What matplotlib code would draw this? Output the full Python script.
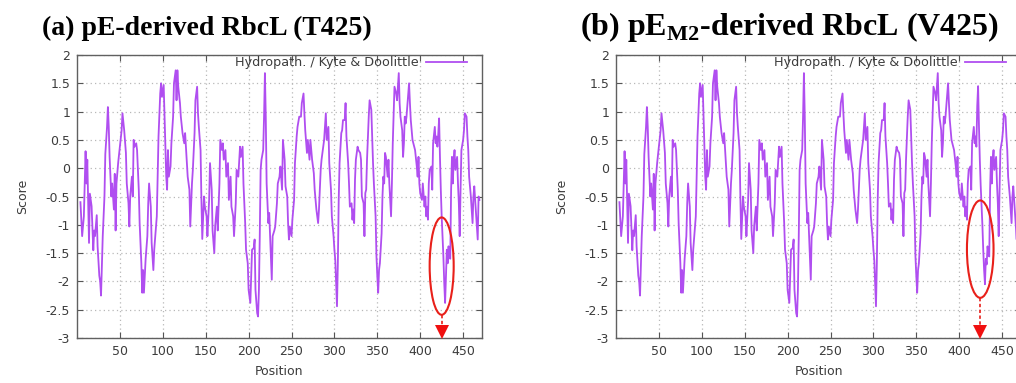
import matplotlib
matplotlib.use("Agg")
import matplotlib.pyplot as plt
from matplotlib.patches import Ellipse
from matplotlib.ticker import FuncFormatter

plt.rcParams['axes.unicode_minus'] = False
plt.rcParams['font.family'] = ['DejaVu Sans']
plt.rcParams['mathtext.fontset'] = 'custom'
plt.rcParams['mathtext.rm'] = 'Liberation Serif'
plt.rcParams['mathtext.bf'] = 'Liberation Serif:bold'

# ---------------- data ----------------
positions = [
    4, 6, 8, 10, 11, 12, 14, 15, 17, 19, 20, 21, 23, 24, 26, 27, 28, 30, 32, 33,
    35, 36, 37, 38, 40, 41, 43, 44, 45, 46, 48, 50, 52, 53, 55, 57, 58, 60, 61, 62,
    64, 65, 66, 67, 69, 70, 72, 73, 75, 76, 77, 78, 80, 82, 83, 84, 86, 87, 89, 90,
    92, 93, 95, 97, 98, 99, 101, 102, 104, 105, 106, 107, 109, 110, 112, 113, 115, 116, 117, 118,
    120, 121, 123, 125, 126, 128, 129, 131, 132, 134, 135, 137, 138, 140, 141, 142, 144, 145, 146, 148,
    149, 151, 152, 154, 155, 157, 158, 160, 161, 163, 164, 166, 167, 169, 170, 171, 173, 174, 176, 177,
    179, 180, 182, 183, 185, 186, 188, 190, 191, 193, 194, 196, 197, 199, 200, 202, 203, 204, 206, 207,
    208, 210, 211, 212, 213, 214, 215, 217, 218, 219, 220, 221, 223, 224, 225, 227, 228, 230, 231, 233,
    234, 236, 237, 239, 240, 242, 243, 245, 246, 247, 248, 250, 251, 253, 254, 256, 257, 259, 261, 262,
    264, 265, 266, 268, 269, 271, 272, 274, 276, 277, 279, 281, 282, 284, 285, 287, 288, 290, 291, 293,
    294, 296, 297, 299, 300, 301, 302, 303, 304, 305, 306, 308, 309, 310, 312, 313, 314, 316, 317, 318,
    320, 321, 322, 323, 324, 325, 327, 328, 330, 331, 332, 334, 335, 336, 337, 338, 340, 341, 343, 344,
    345, 346, 348, 349, 350, 351, 352, 353, 355, 356, 357, 358, 359, 360, 362, 363, 364, 366, 367, 368,
    369, 370, 372, 373, 374, 375, 376, 377, 379, 380, 381, 382, 383, 384, 386, 387, 388, 389, 391, 392,
    394, 396, 397, 398, 399, 400, 402, 403, 405, 406, 407, 408, 409, 410, 411, 413, 414, 415, 417, 418,
    419, 420, 421, 422, 423, 424, 425, 426, 427, 428, 429, 430, 431, 432, 433, 434, 435, 436, 437, 438,
    439, 440, 441, 443, 444, 445, 446, 447, 448, 450, 451, 452, 454, 455, 456, 457, 459, 460, 461, 462,
    463, 464, 466, 467, 468, 469,
]

score_a = [
    -0.6, -1.2, -0.85, 0.3, -0.27, 0.15, -1.32, -0.45, -0.67, -1.45, -1.1, -1.2, -0.83, -1.38, -1.9, -2.0, -2.25, -1.2, -0.5, 0.25,
    0.73, 1.08, 0.73, 0.2, -0.5, -0.27, -0.73, -0.1, -1.1, -0.27, 0.1, 0.38, 0.67, 0.97, 0.67, 0.27, -0.27, -0.62, -1.03, -0.5,
    -0.15, -0.5, 0.5, 0.38, 0.44, 0.32, -0.38, -0.97, -1.68, -2.2, -1.8, -2.2, -1.6, -1.2, -0.62, -0.27, -0.68, -1.32, -1.8, -1.44,
    -1.03, -0.85, 0.56, 1.32, 1.5, 1.26, 1.47, 0.91, -0.15, -0.38, 0.32, -0.15, 0.03, 0.44, 0.91, 1.5, 1.73, 1.2, 1.73, 1.44,
    1.15, 0.91, 0.62, 0.44, 0.62, 0.09, -0.15, -0.38, -1.03, -0.27, -0.03, 0.62, 1.2, 1.44, 0.97, 0.73, 0.32, -0.56, -1.25, -0.5,
    -0.68, -0.85, -1.2, -0.56, 0.09, -0.38, -1.1, -1.5, -1.03, -0.68, -1.1, -0.27, 0.5, 0.32, 0.44, 0.15, 0.32, -0.15, 0.09, -0.56,
    -0.15, -0.68, -0.85, -1.2, -0.62, -0.03, -0.15, 0.38, 0.2, 0.38, -0.27, -0.97, -1.44, -1.68, -2.15, -2.38, -1.9, -1.44, -1.41, -1.26,
    -2.15, -2.56, -2.62, -2.15, -1.2, -0.03, 0.15, 0.32, 0.91, 1.68, 0.91, -0.27, -0.97, -0.79, -1.2, -1.97, -1.2, -1.1, -1.03, -0.62,
    -0.27, -0.15, 0.03, -0.38, 0.5, 0.15, -0.32, -0.5, -0.97, -1.26, -1.03, -1.2, -0.91, -0.56, 0.09, 0.56, 0.73, 0.91, 0.91, 1.15,
    1.32, 0.97, 0.67, 0.27, 0.5, 0.15, 0.5, 0.15, -0.09, -0.38, -0.73, -0.97, -0.73, -0.03, 0.15, 0.38, 0.5, 0.97, 0.5, 0.73,
    0.09, -0.38, -0.85, -1.2, -1.44, -1.62, -2.03, -2.44, -1.68, -0.56, 0.09, 0.62, 0.67, 0.85, 0.85, 1.15, 0.56, 0.09, -0.27, -0.68,
    -0.62, -0.91, -0.73, -0.97, -0.2, 0.15, 0.38, 0.32, 0.27, 0.15, -0.5, -0.62, -1.2, -0.44, -0.38, 0.15, 0.91, 1.2, 1.03, 0.56,
    0.09, -0.27, -0.85, -1.56, -1.91, -2.2, -1.8, -1.68, -1.15, -0.5, -0.15, -0.27, 0.27, 0.2, -0.15, 0.15, -0.27, -0.85, -0.27, 0.44,
    0.97, 1.44, 1.32, 1.2, 1.44, 1.68, 1.15, 0.91, 0.67, 0.2, 0.44, 0.91, 0.79, 0.91, 1.32, 1.5, 1.15, 0.85, 0.5, 0.44,
    0.32, 0.03, -0.15, 0.2, -0.27, -0.44, -0.56, -0.27, -0.68, -0.5, -0.85, -0.68, -0.91, -0.27, -0.03, 0.03, -0.38, 0.44, 0.73, 0.44,
    0.56, 0.38, 0.6, 0.88, 0.2, -0.38, -0.85, -1.2, -1.56, -2.03, -2.38, -1.9, -1.44, -1.68, -1.38, -1.56, -1.6, -0.38, 0.2, -0.27,
    0.15, 0.32, -0.03, 0.2, -0.27, -0.62, -1.2, -0.38, 0.32, 0.5, 0.67, 0.97, 0.91, 0.56, 0.32, -0.15, -0.5, -0.73, -0.97, -0.5,
    -0.32, -0.56, -1.03, -1.26, -0.5, -0.56,
]

# panel (b) differs only around residue 425 (T -> V)
b_changed_positions = [421, 422, 423, 424, 425, 426, 427, 428, 429, 430, 431, 432, 433, 434, 435]
b_changed_scores = [1.1, 1.45, 0.75, 0.15, -0.3, -0.65, -1.0, -1.45, -1.8, -2.05, -1.6, -1.7, -1.38, -1.5, -1.56]

x_ticks = [50, 100, 150, 200, 250, 300, 350, 400, 450]
y_ticks = [-3, -2.5, -2, -1.5, -1, -0.5, 0, 0.5, 1, 1.5, 2]
legend_label = "Hydropath. / Kyte & Doolittle"
titles = ["(a) pE-derived RbcL (T425)", r"(b) pE$_{\mathbf{M2}}$-derived RbcL (V425)"]
marked_residue = 425

score_b = list(score_a)
for p, s in zip(b_changed_positions, b_changed_scores):
    score_b[positions.index(p)] = s

# ---------------- figure ----------------
W, H = 1016, 383
fig = plt.figure(figsize=(W / 100, H / 100), dpi=100)

line_color = '#b04ef0'
text_gray = '#3c3c3c'

def px_axes(left, top, right, bottom):
    return fig.add_axes([left / W, (H - bottom) / H, (right - left) / W, (bottom - top) / H])

panels = [
    dict(ax=px_axes(77, 55, 482, 338), y=score_a, ell=(425, -1.73, 28, 1.72), title_x=42, tsize=20),
    dict(ax=px_axes(616, 55, 1021, 338), y=score_b, ell=(424.5, -1.43, 31, 1.72), title_x=580, tsize=23),
]

for i, pn in enumerate(panels):
    ax = pn['ax']
    ax.plot(positions, pn['y'], color=line_color, lw=1.3, label=legend_label, zorder=3)
    ax.set_xlim(0, 472)
    ax.set_ylim(-3, 2)
    ax.set_xticks(x_ticks)
    ax.set_yticks(y_ticks)
    ax.yaxis.set_major_formatter(FuncFormatter(lambda v, _: ('%g' % v)))
    ax.grid(True, color='#b8b8b8', linestyle=(0, (1, 2.5)), linewidth=0.9)
    ax.tick_params(direction='in', top=True, right=True, length=4, width=0.8,
                   colors='#555555', labelcolor=text_gray, labelsize=9, pad=5)
    for sp in ax.spines.values():
        sp.set_color('#606060')
        sp.set_linewidth(1.0)
    ax.set_xlabel('Position', fontsize=9, color=text_gray, labelpad=5)
    ax.set_ylabel('Score', fontsize=9, color=text_gray, labelpad=12)
    ax.legend(loc='upper right', bbox_to_anchor=(0.962, 0.995), frameon=False, markerfirst=False,
              handlelength=3.2, fontsize=9.2, labelcolor=text_gray, borderaxespad=0.0,
              borderpad=0.0, handletextpad=0.55)

    cx, cy, ew, eh = pn['ell']
    ax.add_patch(Ellipse((cx, cy), ew, eh, fill=False, edgecolor='#e8201a', lw=1.5, zorder=4))
    ax.plot([cx, cx], [cy - eh / 2, -2.83], color='#e8201a', lw=1.2, ls=(0, (2, 1.5)), zorder=4)
    ax.plot([cx], [-2.9], marker='v', markersize=10, color='#f01010', clip_on=False, zorder=5,
            markeredgewidth=0)

    fig.text(pn['title_x'] / W, (H - 35) / H, titles[i], fontsize=pn['tsize'], fontweight='bold',
             family='Liberation Serif', ha='left', va='baseline', color='black')

fig.savefig('out.png', dpi=100)
